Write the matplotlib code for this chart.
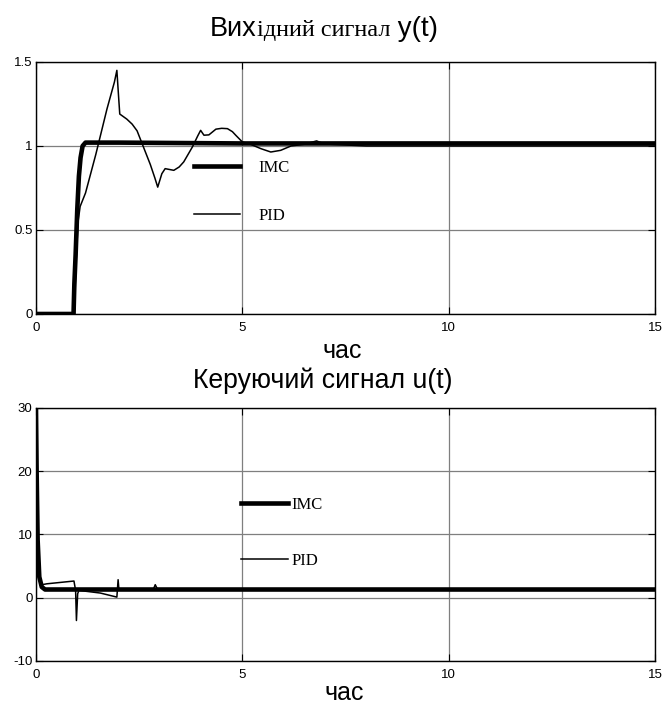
import matplotlib
matplotlib.use('Agg')
import matplotlib.pyplot as plt

plt.rcParams['axes.unicode_minus'] = False

# output y(t)
t_imc_y = [0, 0.91, 0.93, 0.96, 1.0, 1.04, 1.08, 1.13, 1.2, 2.0, 5.0, 15]
imc_y = [0, 0, 0.18, 0.35, 0.62, 0.82, 0.93, 1.0, 1.02, 1.02, 1.015, 1.015]

t_pid_y = [0, 0.93, 0.97, 1.02, 1.07, 1.2, 1.45, 1.72, 1.9, 1.96, 2.0, 2.03, 2.2, 2.33, 2.45,
           2.61, 2.77, 2.88, 2.95, 3.05, 3.13, 3.34, 3.47, 3.58, 3.79, 3.92, 3.99, 4.07, 4.19,
           4.36, 4.5, 4.64, 4.76, 4.84, 5.0, 5.2, 5.45, 5.69, 5.93, 6.18, 6.5, 6.8, 6.9, 7.15,
           8, 15]
pid_y = [0, 0, 0.3, 0.55, 0.64, 0.72, 0.95, 1.22, 1.38, 1.45, 1.3, 1.19, 1.16, 1.13, 1.09,
         0.99, 0.89, 0.81, 0.755, 0.835, 0.865, 0.855, 0.875, 0.905, 0.994, 1.06, 1.093, 1.064,
         1.066, 1.10, 1.105, 1.103, 1.085, 1.064, 1.024, 1.01, 0.984, 0.964, 0.974, 1.0, 1.01,
         1.03, 1.02, 1.01, 1.0, 1.0]

# control u(t)
t_imc_u = [0, 0.016, 0.04, 0.08, 0.14, 0.22, 0.4, 15]
imc_u = [30, 19.7, 9.1, 3.3, 1.7, 1.3, 1.3, 1.3]

t_pid_u = [0, 0.016, 0.04, 0.08, 0.1, 0.18, 0.26, 0.92, 0.96, 0.98, 1.01, 1.04, 1.56, 1.96,
           1.99, 2.01, 2.85, 2.89, 2.95, 4.0, 15]
pid_u = [30, 19.7, 9.1, 3.3, 1.95, 2.1, 2.2, 2.64, 1.16, -3.6, 0.63, 1.16, 0.74, 0.1,
         2.85, 1.27, 1.42, 2.06, 1.27, 1.3, 1.3]

x_ticks = [0, 5, 10, 15]
y_ticks_top = [0, 0.5, 1, 1.5]
y_labels_top = ['0', '0.5', '1', '1.5']
y_ticks_bot = [-10, 0, 10, 20, 30]
y_labels_bot = ['-10', '0', '10', '20', '30']

fig = plt.figure(figsize=(6.64, 7.04), dpi=100)
ax1 = fig.add_axes([0.0542, 0.554, 0.9322, 0.358])
ax2 = fig.add_axes([0.0542, 0.0611, 0.9322, 0.3594])


def style(ax, yt, yl, ylim):
    ax.set_xlim(0, 15)
    ax.set_ylim(*ylim)
    ax.set_xticks(x_ticks)
    ax.set_xticklabels([str(v) for v in x_ticks])
    ax.set_yticks(yt)
    ax.set_yticklabels(yl)
    ax.grid(True, color='#7f7f7f', linewidth=0.9)
    ax.set_axisbelow(True)
    ax.tick_params(direction='in', length=5, top=True, right=True, width=0.8,
                   labelsize=9.5, colors='black')
    ax.tick_params(axis='x', pad=5.5)
    ax.tick_params(axis='y', pad=2.5)
    for lab in ax.get_xticklabels() + ax.get_yticklabels():
        lab.set_family('Liberation Sans')
    for s in ax.spines.values():
        s.set_color('black')
        s.set_linewidth(1.0)


style(ax1, y_ticks_top, y_labels_top, (0, 1.5))
style(ax2, y_ticks_bot, y_labels_bot, (-10, 30))

ax1.plot(t_imc_y, imc_y, color='black', linewidth=3.3, label='IMC', solid_joinstyle='round')
ax1.plot(t_pid_y, pid_y, color='black', linewidth=1.1, label='PID')
ax2.plot(t_imc_u, imc_u, color='black', linewidth=3.3, label='IMC', solid_joinstyle='round')
ax2.plot(t_pid_u, pid_u, color='black', linewidth=1.1, label='PID')

leg_font = {'family': 'Liberation Serif', 'size': 12}
ax1.legend(loc='upper left', bbox_to_anchor=(0.255, 0.611), frameon=False, prop=leg_font,
           handlelength=2.8, handletextpad=1.1, labelspacing=1.9, borderpad=0, borderaxespad=0)
ax2.legend(loc='upper left', bbox_to_anchor=(0.331, 0.648), frameon=False, prop=leg_font,
           handlelength=2.8, handletextpad=0.25, labelspacing=2.4, borderpad=0, borderaxespad=0)

# titles (top title mixes fonts as in the original)
renderer = fig.canvas.get_renderer()
x = 210 / 664
for piece, fam, size in [('Вих', 'Liberation Sans', 19.5), ('ідний сигнал', 'Liberation Serif', 17.5),
                         (' y(t)', 'Liberation Sans', 20)]:
    t = fig.text(x, 1 - 36 / 704, piece, family=fam, fontsize=size, va='baseline', ha='left')
    bb = t.get_window_extent(renderer)
    x = bb.x1 / fig.bbox.width

fig.text(0.4857, 0.4489, 'Керуючий сигнал u(t)', family='Liberation Sans', fontsize=19.2,
         ha='center', va='baseline')
fig.text(0.515, 0.4915, 'час', family='Liberation Sans', fontsize=18, ha='center', va='baseline')
fig.text(0.518, 0.0057, 'час', family='Liberation Sans', fontsize=18, ha='center', va='baseline')

fig.savefig('out.png', dpi=100)
